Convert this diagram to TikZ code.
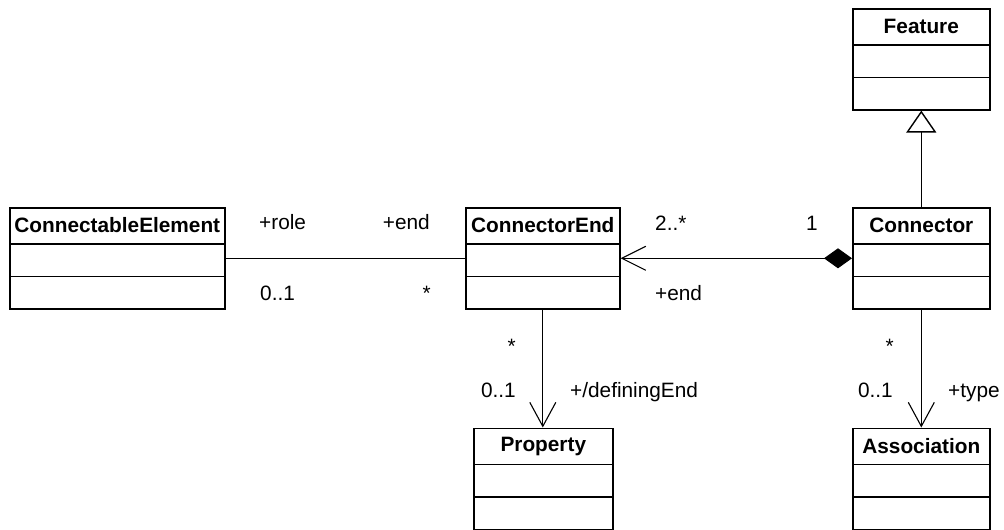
\documentclass[tikz,border=0pt]{standalone}
\usepackage{fontspec}
\setmainfont{Liberation Sans}
\usetikzlibrary{arrows.meta}
\newcommand\umlclass[5]{% #1 name, #2 left x, #3 right x, #4 top y, #5 title
  \node[box, anchor=north west, minimum width={(#3-#2)*1pt}, minimum height=101pt] (#1) at (#2,#4) {};
  \draw[div] ([yshift=-37pt]#1.north west) -- ([yshift=-37pt]#1.north east);
  \draw[div] ([yshift=-69.5pt]#1.north west) -- ([yshift=-69.5pt]#1.north east);
  \node[title] (#1-t) at ([yshift=-18.5pt]#1.north) {#5};
}
\begin{document}
\begin{tikzpicture}[x=1pt,y=-1pt,
  box/.style={draw, line width=1.6pt, fill=white, inner sep=0pt},
  div/.style={line width=1.6pt},
  title/.style={font=\fontsize{20.8}{24}\selectfont\bfseries, inner sep=0pt},
  lbl/.style={font=\fontsize{20.8}{24}\selectfont, inner sep=0pt},
  conn/.style={line width=1pt},
  openarrow/.style={-{Straight Barb[length=24pt,width=26pt,line width=1.1pt]}},
  gen/.style={-{Triangle[length=22pt,width=30pt,fill=white,line width=1.4pt]}},
  comp/.style={{Diamond[length=28pt,width=20pt]}-{Straight Barb[length=24pt,width=24pt,line width=1.1pt]}}
]
\useasboundingbox (0,0) rectangle (1004,530);

\umlclass{feature}{852}{989}{8}{Feature}
\umlclass{connector}{852}{989}{207}{Connector}
\umlclass{assoc}{852}{989}{427.5}{Association}
\umlclass{celem}{9}{224}{207}{ConnectableElement}
\umlclass{cend}{465}{619}{207}{ConnectorEnd}
\umlclass{prop}{473}{612}{427.5}{Property}

% connectors
\draw[conn] (celem.east) -- (cend.west);
\draw[conn, comp] (connector.west) -- (cend.east);
\draw[conn, gen] (connector.north) -- (feature.south);
\draw[conn, openarrow] (cend.south) -- (cend.south |- prop.north);
\draw[conn, openarrow] (connector.south) -- (assoc.north);

% labels
\node[lbl, anchor=base west] (l1) at (259,229) {+role};
\node[lbl, anchor=base east] (l2) at (430,229) {+end};
\node[lbl, anchor=base west] (l3) at (260,300) {0..1};
\node[lbl, anchor=base east] (l4) at (431,300) {*};
\node[lbl, anchor=base west] (l5) at (655,230) {2..*};
\node[lbl, anchor=base east] (l6) at (818,230) {1};
\node[lbl, anchor=base west] (l7) at (655,300) {+end};
\node[lbl, anchor=base east] (l8) at (516,353) {*};
\node[lbl, anchor=base east] (l9) at (516,397) {0..1};
\node[lbl, anchor=base west] (l10) at (570,397) {+/definingEnd};
\node[lbl, anchor=base east] (l11) at (894,353) {*};
\node[lbl, anchor=base east] (l12) at (893,397) {0..1};
\node[lbl, anchor=base west] (l13) at (948,397) {+type};
\end{tikzpicture}
\end{document}
